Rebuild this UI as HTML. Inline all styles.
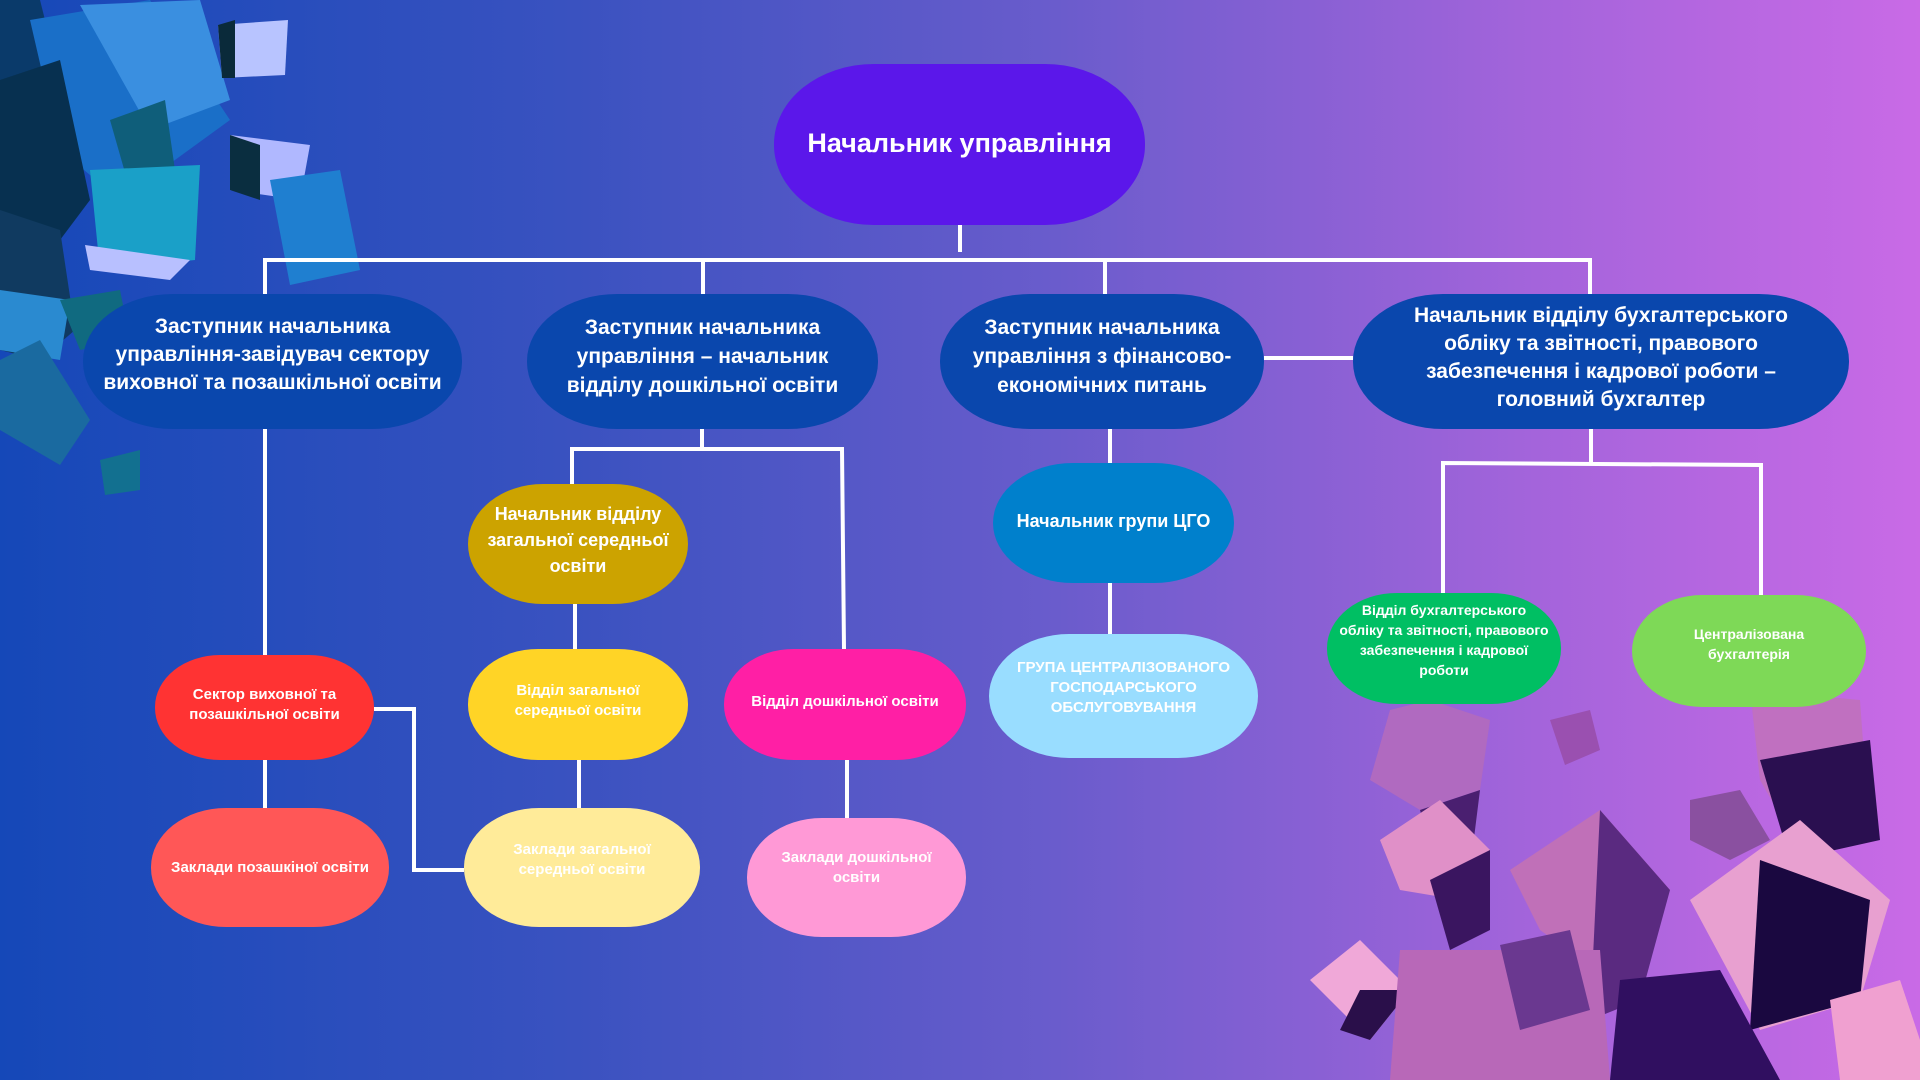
<!DOCTYPE html>
<html><head><meta charset="utf-8">
<style>
html,body{margin:0;padding:0}
body{width:1920px;height:1080px;position:relative;overflow:hidden;
background:linear-gradient(90deg,#1548b8 0%,#3a52c0 30%,#6a5ccc 55%,#a464db 80%,#c96ae6 100%);
font-family:"Liberation Sans",sans-serif;font-weight:bold;color:#fff}
.b{position:absolute;display:flex;align-items:center;justify-content:center;text-align:center;box-sizing:border-box}
svg{position:absolute;left:0;top:0}
</style></head><body>
<svg width="1920" height="1080">
 <g>
  <polygon points="0,0 40,0 60,80 0,130" fill="#0a3a6a"/>
  <polygon points="30,20 150,0 230,120 120,200 60,150" fill="#1a6fc8"/>
  <polygon points="80,5 200,0 230,100 150,130" fill="#3a8fe0"/>
  <polygon points="0,80 60,60 90,200 30,280 0,250" fill="#073050"/>
  <polygon points="218,25 288,20 285,75 222,78" fill="#b8c4ff"/>
  <polygon points="218,25 235,20 235,78 222,78" fill="#0a2a3a"/>
  <polygon points="110,120 165,100 175,170 130,190" fill="#0f5e7a"/>
  <polygon points="230,135 310,145 300,200 230,190" fill="#b0b8ff"/>
  <polygon points="230,135 260,145 260,200 230,190" fill="#0a2e40"/>
  <polygon points="270,180 340,170 360,270 290,285" fill="#1f7fd0"/>
  <polygon points="90,170 200,165 195,260 100,270" fill="#1aa0c8"/>
  <polygon points="85,245 190,260 170,280 90,270" fill="#b8c0ff"/>
  <polygon points="0,210 60,230 75,330 40,360 0,350" fill="#103a60"/>
  <polygon points="0,290 70,300 60,360 0,350" fill="#2a8ad0"/>
  <polygon points="60,300 120,290 130,340 80,350" fill="#106a80"/>
  <polygon points="0,360 40,340 90,420 60,465 0,430" fill="#1a6aa0"/>
  <polygon points="100,460 140,450 140,490 105,495" fill="#127090"/>
 </g>
 <g>
  <polygon points="1390,710 1430,700 1490,720 1480,790 1420,810 1370,780" fill="#b06ac0"/>
  <polygon points="1420,810 1480,790 1470,870 1440,880" fill="#4a1f70"/>
  <polygon points="1380,840 1440,800 1490,850 1460,900 1400,890" fill="#e090c8"/>
  <polygon points="1430,880 1490,850 1490,930 1450,950" fill="#3a1560"/>
  <polygon points="1550,720 1590,710 1600,750 1565,765" fill="#9a50b0"/>
  <polygon points="1750,690 1860,700 1870,840 1800,850 1760,780" fill="#c070c0"/>
  <polygon points="1760,760 1870,740 1880,840 1790,860" fill="#2a0f50"/>
  <polygon points="1690,800 1740,790 1770,840 1730,860 1690,840" fill="#8a50a0"/>
  <polygon points="1510,870 1600,810 1670,890 1610,980 1540,930" fill="#c070b8"/>
  <polygon points="1600,810 1670,890 1640,1000 1590,1020" fill="#5a2a80"/>
  <polygon points="1690,900 1800,820 1890,900 1860,1000 1760,1030" fill="#e8a0d0"/>
  <polygon points="1760,860 1870,900 1860,1000 1750,1030" fill="#1a0840"/>
  <polygon points="1310,980 1360,940 1410,990 1370,1040" fill="#f0a8d8"/>
  <polygon points="1360,990 1410,990 1370,1040 1340,1030" fill="#2a0f4a"/>
  <polygon points="1400,950 1600,950 1610,1080 1390,1080" fill="#b868b8"/>
  <polygon points="1500,945 1570,930 1590,1010 1520,1030" fill="#6a3890"/>
  <polygon points="1620,980 1720,970 1780,1080 1610,1080" fill="#300f60"/>
  <polygon points="1830,1000 1900,980 1920,1040 1920,1080 1840,1080" fill="#f0a0d0"/>
 </g>
 <g stroke="#fff" stroke-width="4" fill="none">
  <line x1="960" y1="225" x2="960" y2="252"/>
  <line x1="263" y1="260" x2="1592" y2="260"/>
  <line x1="265" y1="258" x2="265" y2="294"/>
  <line x1="703" y1="260" x2="703" y2="294"/>
  <line x1="1105" y1="260" x2="1105" y2="294"/>
  <line x1="1590" y1="260" x2="1590" y2="294"/>
  <line x1="1264" y1="358" x2="1353" y2="358"/>
  <line x1="265" y1="429" x2="265" y2="655"/>
  <line x1="265" y1="760" x2="265" y2="808"/>
  <polyline points="374,709 414,709 414,870 464,870"/>
  <line x1="702" y1="429" x2="702" y2="449"/>
  <polyline points="572,484 572,449 842,449 844,649"/>
  <line x1="575" y1="604" x2="575" y2="649"/>
  <line x1="579" y1="760" x2="579" y2="808"/>
  <line x1="847" y1="760" x2="847" y2="818"/>
  <line x1="1110" y1="429" x2="1110" y2="463"/>
  <line x1="1110" y1="583" x2="1110" y2="634"/>
  <line x1="1591" y1="429" x2="1591" y2="463"/>
  <polyline points="1443,593 1443,463 1761,465 1761,595"/>
 </g>
</svg>
<div class="b" style="left:774px;top:64px;width:371px;height:161px;background:#5b17ea;font-size:27px;border-radius:100px/80px;padding-bottom:2px">Начальник управління</div>
<div class="b" style="left:83px;top:294px;width:379px;height:135px;background:#0a47ad;font-size:21px;line-height:28px;border-radius:90px/67px;padding:0 14px 14px">Заступник начальника управління-завідувач сектору виховної та позашкільної освіти</div>
<div class="b" style="left:527px;top:294px;width:351px;height:135px;background:#0a47ad;font-size:21px;line-height:29px;border-radius:90px/67px;padding:0 20px 10px">Заступник начальника управління – начальник відділу дошкільної освіти</div>
<div class="b" style="left:940px;top:294px;width:324px;height:135px;background:#0a47ad;font-size:21px;line-height:29px;border-radius:90px/67px;padding:0 10px 10px">Заступник начальника управління з фінансово-економічних питань</div>
<div class="b" style="left:1353px;top:294px;width:496px;height:135px;background:#0a47ad;font-size:21px;line-height:28px;border-radius:90px/67px;padding:0 30px 8px">Начальник відділу бухгалтерського обліку та звітності, правового забезпечення і кадрової роботи – головний бухгалтер</div>
<div class="b" style="left:155px;top:655px;width:219px;height:105px;background:#ff3333;font-size:15px;line-height:20px;border-radius:65px/52px;padding:0 24px 6px">Сектор виховної та позашкільної освіти</div>
<div class="b" style="left:151px;top:808px;width:238px;height:119px;background:#ff5757;font-size:15px;border-radius:75px/59px">Заклади позашкіної освіти</div>
<div class="b" style="left:468px;top:484px;width:220px;height:120px;background:#cca300;font-size:18px;line-height:26px;border-radius:75px/60px;padding:0 2px 8px">Начальник відділу загальної середньої освіти</div>
<div class="b" style="left:468px;top:649px;width:220px;height:111px;background:#ffd426;font-size:15px;line-height:20px;border-radius:70px/55px;padding:0 40px 8px">Відділ загальної середньої освіти</div>
<div class="b" style="left:464px;top:808px;width:236px;height:119px;background:#ffeb99;font-size:15px;line-height:20px;border-radius:75px/59px;padding:0 40px 16px">Заклади загальної середньої освіти</div>
<div class="b" style="left:724px;top:649px;width:242px;height:111px;background:#ff1fa5;font-size:15px;border-radius:70px/55px;padding-bottom:6px">Відділ дошкільної освіти</div>
<div class="b" style="left:747px;top:818px;width:219px;height:119px;background:#ff99d6;font-size:15px;line-height:20px;border-radius:75px/59px;padding:0 30px 20px">Заклади дошкільної освіти</div>
<div class="b" style="left:993px;top:463px;width:241px;height:120px;background:#0080cc;font-size:18px;border-radius:80px/60px;padding-bottom:4px">Начальник групи ЦГО</div>
<div class="b" style="left:989px;top:634px;width:269px;height:124px;background:#99ddff;font-size:15px;line-height:20px;border-radius:80px/62px;padding:0 20px 16px">ГРУПА ЦЕНТРАЛІЗОВАНОГО ГОСПОДАРСЬКОГО ОБСЛУГОВУВАННЯ</div>
<div class="b" style="left:1327px;top:593px;width:234px;height:111px;background:#00bf63;font-size:14px;line-height:20px;border-radius:70px/55px;padding:0 12px 18px">Відділ бухгалтерського обліку та звітності, правового забезпечення і кадрової роботи</div>
<div class="b" style="left:1632px;top:595px;width:234px;height:112px;background:#7ed957;font-size:14px;line-height:20px;border-radius:70px/56px;padding:0 40px 14px">Централізована бухгалтерія</div>
</body></html>
